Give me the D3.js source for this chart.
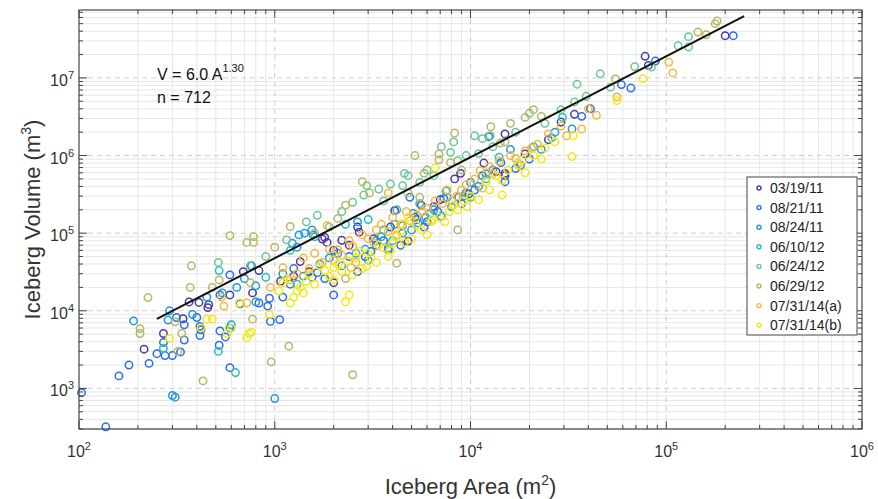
<!DOCTYPE html>
<html>
<head>
<meta charset="utf-8">
<script src="https://cdn.jsdelivr.net/npm/d3@7"></script>
<style>
  body { margin: 0; background: #fff; }
  svg { display: block; }
  text { font-family: "Liberation Sans", Arial, Helvetica, sans-serif; }
</style>
</head>
<body>
<svg id="chart" width="878" height="499"></svg>
<script>
// Survey dates (legend order = drawing order)
const seriesNames = ["03/19/11", "08/21/11", "08/24/11", "06/10/12", "06/24/12", "06/29/12", "07/31/14(a)", "07/31/14(b)"];
const seriesColors = ["#4b3ba0", "#2a6ee8", "#1d9ae2", "#26bdbf", "#6cc892", "#b6b866", "#f6b73e", "#f4e712"];

// [area m², volume m³] for each iceberg
const d031911 = [[2.0e5,3.5e7],[7.8e4,1.9e7],[8.1e4,1.45e7],[3.4e4,3.4e6],[1.5e4,1.9e6],[1.5e4,5.5e5],[4.8e3,7.9e4],[215,3.2e3],[270,5.1e3],[340,7.9e3],[365,1.3e4],[410,1.28e4],[455,1.1e4],[460,1.2e4],[590,1.6e4],[690,3.2e4],[770,1.7e4],[1.75e3,8.4e4],[1.85e3,7.6e4],[2.0e3,6.0e4],[2.0e3,2.3e4],[1.8e3,8.8e4],[2.2e3,8.1e4],[2.65e3,1.2e5],[2.7e3,1.03e5],[8.9e3,5.9e5],[8.3e3,5.0e5],[1.5e4,5.9e5],[1.17e4,8.0e5],[5.6e3,2.3e5],[4.1e3,1.95e5],[7.0e3,2.7e5],[1.07e3,2.4e4],[1.35e3,4.3e4],[830,3.3e4],[2.5e4,1.6e6],[2.9e4,2.7e6],[1.5e3,3.2e4],[2.4e3,7.0e4],[3.2e3,8.5e4],[3.9e3,1.2e5],[5.2e3,1.6e5],[6.5e3,2.2e5],[9.8e3,3.2e5],[1.35e4,6.2e5],[1.9e4,1.05e6],[1.25e3,2.8e4]];
const d082111 = [[2.2e5,3.5e7],[8.8e4,1.65e7],[5.9e4,8.2e6],[6.6e4,7.4e6],[4.1e4,4.0e6],[3.7e4,3.2e6],[137,320],[103,880],[160,1.45e3],[180,2.0e3],[228,2.1e3],[250,2.8e3],[275,2.65e3],[270,3.9e3],[300,2.65e3],[330,2.95e3],[315,8.2e3],[345,4.2e3],[345,6.6e3],[400,8.2e3],[415,6.3e3],[420,5.7e3],[415,4.8e3],[525,5.5e3],[520,3.6e3],[590,2.9e4],[525,1.6e4],[560,4.6e3],[590,1.85e3],[665,1.23e4],[830,1.26e4],[950,7.3e3],[1.06e3,7.7e3],[760,3.8e4],[940,1.45e4],[920,1.15e4],[1.1e3,1.5e4],[1.65e3,3.1e4],[1.55e3,2.7e4],[3.8e3,6.1e4],[3.1e3,5.8e4],[2.65e3,3.2e4],[2.0e3,1.6e4],[5.3e3,1.5e5],[4.5e3,1.26e5],[7.3e3,2.8e5],[8.7e3,2.9e5],[4.9e3,2.9e5],[1.43e4,8.1e5],[1.5e4,4.6e5],[1.24e4,1.75e6],[2.4e3,5.0e4],[3.3e3,7.0e4],[6.0e3,1.4e5],[1.05e4,3.6e5],[2.0e4,9.0e5],[1.25e3,3.5e4],[1.2e3,2.2e4],[1.8e3,2.6e4],[2.9e3,5.0e4],[3.6e3,8.0e4],[4.4e3,7.0e4],[5.8e3,1.2e5],[6.8e3,1.9e5],[9.0e3,2.4e5],[1.15e4,5.5e5],[1.7e4,6.8e5]];
const d082411 = [[290,1.0e4],[190,7.4e3],[300,810],[310,770],[285,7.6e3],[540,1.7e4],[640,2.0e4],[800,2.1e4],[1.33e3,9.5e4],[1.42e3,1.0e5],[1.55e3,1.1e5],[1.57e3,9.5e4],[1.23e3,7.4e4],[1.3e3,6.6e4],[2.65e3,1.4e5],[3.8e3,6.4e4],[5.1e3,1.8e5],[5.4e3,1.35e5],[7.1e3,1.65e5],[9.2e3,3.0e5],[1.0e3,740],[600,6.6e3],[590,6.0e3],[800,1.3e4],[2.1e3,5.5e4],[2.9e3,6.2e4],[3.5e3,9.0e4],[4.5e3,1.0e5],[6.5e3,2.0e5],[8.0e3,2.2e5],[1.1e4,4.0e5],[1.3e4,6.5e5],[1.8e4,7.5e5],[2.3e4,1.2e6],[2.7e4,2.0e6],[3.3e4,2.2e6],[1.6e4,1.2e6],[1.0e4,4.5e5],[9.5e3,3.3e5],[5.0e3,1.1e5],[3.0e3,4.5e4],[1.7e3,4.0e4],[1.4e3,2.8e4],[700,2.6e4],[450,1.5e4],[380,9.0e3],[1.1e3,3.0e4],[1.9e3,4.8e4],[2.2e3,3.8e4],[3.3e3,8.0e4],[4.1e3,1.3e5],[5.9e3,1.6e5],[7.6e3,2.9e5],[1.2e4,5.8e5]];
const d061012 = [[520,3.3e4],[270,3.3e3],[515,3.0e3],[630,1.6e3],[1.0e4,2.9e5],[2.95e4,3.1e6],[1.2e3,6.0e4],[1.6e3,9.0e4],[2.3e3,1.3e5],[3.0e3,1.5e5],[3.6e3,1.1e5],[4.2e3,2.0e5],[5.5e3,2.4e5],[6.2e3,1.8e5],[7.5e3,3.5e5],[1.2e4,5.0e5],[1.4e4,9.5e5],[2.1e4,1.3e6],[2.6e4,1.7e6],[900,2.7e4],[1.3e3,2.2e4],[2.6e3,5.5e4],[4.0e3,8.0e4]];
const d062412 = [[1.3e5,3.4e7],[1.3e5,2.5e7],[1.15e5,2.6e7],[6.9e4,1.4e7],[8.4e4,1.38e7],[4.6e4,1.13e7],[5.2e4,7.6e6],[3.5e4,8.3e6],[3.9e4,5.8e6],[3.4e4,4.9e6],[2.9e4,3.9e6],[2.0e4,3.5e6],[1.7e4,2.0e6],[1.26e4,1.8e6],[1.15e4,1.65e6],[1.05e4,1.8e6],[7.1e3,1.3e6],[7.9e3,1.1e6],[8.2e3,1.5e6],[8.6e3,8.6e5],[1.1e4,1.06e6],[4.6e3,5.9e5],[4.8e3,5.5e5],[3.4e3,3.7e5],[3.9e3,4.3e5],[4.5e3,4.1e5],[2.95e3,4.1e5],[2.85e3,3.1e5],[2.2e3,1.9e5],[1.65e3,1.7e5],[1.45e3,1.4e5],[1.15e3,8.2e4],[515,4.2e4],[2.5e3,2.5e5],[6.0e3,6.5e5],[1.3e4,1.3e6],[5.5e3,4.5e5],[900,5.0e4],[750,3.8e4],[1.9e3,1.2e5],[3.6e3,2.6e5],[6.5e3,5.5e5],[9.5e3,1.0e6],[2.4e4,2.6e6]];
const d062912 = [[1.78e5,5.0e7],[1.82e5,5.4e7],[1.6e5,3.6e7],[1.45e5,3.9e7],[5.5e4,9.7e6],[2.3e4,3.2e6],[2.1e4,3.9e6],[1.9e4,3.1e6],[1.6e4,2.6e6],[1.27e4,2.35e6],[1.42e4,1.45e6],[1.5e4,1.5e6],[1.7e4,9.2e5],[8.3e3,1.95e6],[6.9e3,1.05e6],[6.9e3,8.8e5],[5.2e3,1.0e6],[5.8e3,5.9e5],[7.9e3,8.1e5],[8.6e3,1.1e5],[2.8e3,4.6e5],[3.05e3,3.3e5],[2.3e3,2.3e5],[2.1e3,1.55e5],[1.2e3,1.22e5],[1.0e3,6.6e4],[780,9.0e4],[780,7.6e4],[720,7.6e4],[590,9.3e4],[375,3.8e4],[370,2.0e4],[225,1.48e4],[205,5.9e3],[205,5.1e3],[310,7.2e3],[335,5.1e3],[320,3.0e3],[430,1.25e3],[480,2.0e4],[520,2.5e4],[750,2.3e4],[770,7.8e3],[960,2.2e3],[1.18e3,3.5e3],[2.5e3,1.5e3],[4.2e3,4.1e4],[2.3e3,2.6e4],[5.5e3,2.9e5],[1.6e3,1.0e5],[4.8e3,3.3e5],[9.0e3,6.5e5]];
const d073114a = [[1.03e5,1.6e7],[1.08e5,1.16e7],[5.6e4,5.7e6],[4.0e4,4.0e6],[4.4e4,3.3e6],[3.7e4,2.2e6],[1.12e4,6.4e5],[7.6e3,3.6e5],[3.8e3,3.3e5],[1.85e3,1.25e5],[2.45e3,3.6e4],[2.1e3,6.1e4],[550,1.15e4],[535,1.5e4],[720,1.26e4],[1.4e3,4.8e4],[1.6e3,5.5e4],[2.4e3,8.0e4],[2.8e3,9.5e4],[3.2e3,7.5e4],[3.5e3,1.3e5],[4.0e3,1.6e5],[4.7e3,1.9e5],[5.3e3,1.7e5],[6.0e3,2.1e5],[6.6e3,2.6e5],[8.5e3,3.0e5],[9.5e3,4.2e5],[1.05e4,5.0e5],[1.25e4,7.2e5],[1.4e4,8.5e5],[1.6e4,1.0e6],[1.9e4,1.15e6],[2.2e4,1.4e6],[2.5e4,1.9e6],[2.9e4,2.4e6],[3.1e4,1.8e6],[1.3e3,3.0e4],[1.1e3,3.6e4],[950,2.0e4],[2.0e3,4.5e4],[2.5e3,6.8e4],[3.8e3,1.05e5],[4.4e3,1.3e5],[7.2e3,2.4e5],[1.15e4,3.8e5],[1.2e3,2.5e4],[1.5e3,3.5e4],[1.75e3,4.2e4],[1.9e3,6.2e4],[2.2e3,5.2e4],[2.6e3,4.2e4],[3.0e3,8.5e4],[3.3e3,1.1e5],[4.2e3,9.5e4],[4.9e3,1.45e5],[5.7e3,1.9e5],[8.0e3,2.6e5],[9.0e3,3.6e5],[1.3e4,5.8e5],[1.75e4,8.0e5],[2.05e4,1.25e6]];
const d073114b = [[3.3e4,9.7e5],[3.35e4,1.8e6],[7.6e4,9.8e6],[5.6e4,5.1e6],[1.85e4,8.8e5],[1.45e4,3.1e5],[6.3e3,1.4e5],[6.6e3,6.9e5],[4.5e3,1.3e5],[4.8e3,1.6e5],[4.0e3,7.4e4],[2.95e3,3.7e4],[2.4e3,1.6e4],[2.3e3,1.3e4],[1.4e3,1.7e4],[1.2e3,1.26e4],[1.3e3,1.8e4],[1.35e3,2.0e4],[940,9.0e3],[760,5.3e3],[720,4.5e3],[740,5.1e3],[660,1.26e4],[600,6.0e3],[570,5.1e3],[450,7.8e3],[480,7.8e3],[420,6.0e3],[290,4.4e3],[1.5e3,3.0e4],[1.7e3,3.8e4],[1.9e3,2.8e4],[2.1e3,4.0e4],[2.6e3,4.8e4],[3.0e3,5.5e4],[3.3e3,4.2e4],[3.6e3,6.5e4],[4.2e3,9.0e4],[5.0e3,8.5e4],[5.6e3,1.1e5],[6.0e3,9.5e4],[7.0e3,1.6e5],[7.8e3,1.9e5],[8.6e3,2.0e5],[9.2e3,2.6e5],[1.0e4,3.0e5],[1.1e4,2.7e5],[1.2e4,4.6e5],[1.35e4,5.5e5],[1.55e4,6.5e5],[1.75e4,7.5e5],[2.1e4,1.0e6],[2.4e4,1.25e6],[2.7e4,1.5e6],[1.1e3,2.3e4],[1.25e3,1.5e4],[1.6e3,2.2e4],[2.2e3,3.2e4],[2.8e3,3.5e4],[3.8e3,5.0e4],[4.6e3,7.5e4],[1.05e3,1.8e4],[1.15e3,2.6e4],[1.45e3,2.4e4],[1.8e3,3.3e4],[2.0e3,2.5e4],[2.35e3,4.4e4],[2.7e3,5.8e4],[3.1e3,4.8e4],[3.4e3,7.0e4],[3.9e3,6.0e4],[4.4e3,1.05e5],[5.3e3,1.25e5],[6.4e3,1.5e5],[7.4e3,1.4e5],[8.2e3,2.3e5],[9.6e3,2.2e5],[1.25e4,3.6e5],[1.45e4,4.8e5],[1.9e4,6.0e5],[2.3e4,9.0e5],[2.0e3,3.6e4],[2.5e3,2.9e4]];

const seriesData = [d031911, d082111, d082411, d061012, d062412, d062912, d073114a, d073114b];

// Power-law fit V = a·A^b and the area span it is drawn over
const fitCoef = 6.0;
const fitExp = 1.30;
const fitAreaRange = [250, 2.5e5];
const sampleCount = 712;

const xTickValues = [1e2, 1e3, 1e4, 1e5, 1e6];
const yTickValues = [1e3, 1e4, 1e5, 1e6, 1e7];
const xDomain = [1e2, 1e6];
const yDomain = [300, 7.5e7];

const svg = d3.select("#chart");
const plot = { left: 79, right: 862, top: 10, bottom: 429 };

const x = d3.scaleLog().domain(xDomain).range([plot.left, plot.right]);
const y = d3.scaleLog().domain(yDomain).range([plot.bottom, plot.top]);

const isMajor = v => Math.abs(Math.log10(v) - Math.round(Math.log10(v))) < 1e-9;
const xAll = x.ticks();
const yAll = y.ticks();

// Grid: minor lines solid, decade lines dashed
const grid = svg.append("g");
grid.selectAll(".xminor").data(xAll.filter(v => !isMajor(v))).join("line")
  .attr("x1", d => x(d)).attr("x2", d => x(d)).attr("y1", plot.top).attr("y2", plot.bottom)
  .attr("stroke", "#e6e6e6").attr("stroke-width", 1);
grid.selectAll(".yminor").data(yAll.filter(v => !isMajor(v))).join("line")
  .attr("y1", d => y(d)).attr("y2", d => y(d)).attr("x1", plot.left).attr("x2", plot.right)
  .attr("stroke", "#e6e6e6").attr("stroke-width", 1);
grid.selectAll(".xmajor").data(xTickValues.slice(1, -1)).join("line")
  .attr("x1", d => x(d)).attr("x2", d => x(d)).attr("y1", plot.top).attr("y2", plot.bottom)
  .attr("stroke", "#cfcfcf").attr("stroke-width", 1).attr("stroke-dasharray", "5,4");
grid.selectAll(".ymajor").data(yTickValues).join("line")
  .attr("y1", d => y(d)).attr("y2", d => y(d)).attr("x1", plot.left).attr("x2", plot.right)
  .attr("stroke", "#cfcfcf").attr("stroke-width", 1).attr("stroke-dasharray", "5,4");

// Scatter markers
const marks = svg.append("g");
seriesData.forEach((pts, i) => {
  marks.append("g").selectAll("circle").data(pts).join("circle")
    .attr("cx", d => x(d[0])).attr("cy", d => y(d[1])).attr("r", 3.7)
    .attr("fill", "none").attr("stroke", seriesColors[i]).attr("stroke-width", 1.5);
});

// Fit line
const fitPts = fitAreaRange.map(a => [a, fitCoef * Math.pow(a, fitExp)]);
svg.append("path").datum(fitPts)
  .attr("d", d3.line().x(d => x(d[0])).y(d => y(d[1])))
  .attr("stroke", "#111").attr("stroke-width", 2).attr("fill", "none");

// Axes with inward ticks on all four sides
const axisColor = "#444";
function tickSize(v) { return isMajor(v) ? 8 : 4; }
const axes = svg.append("g");
axes.selectAll(".tb").data(xAll).join("line")
  .attr("x1", d => x(d)).attr("x2", d => x(d)).attr("y1", plot.bottom).attr("y2", d => plot.bottom - tickSize(d))
  .attr("stroke", axisColor);
axes.selectAll(".tt").data(xAll).join("line")
  .attr("x1", d => x(d)).attr("x2", d => x(d)).attr("y1", plot.top).attr("y2", d => plot.top + tickSize(d))
  .attr("stroke", axisColor);
axes.selectAll(".tl").data(yAll).join("line")
  .attr("y1", d => y(d)).attr("y2", d => y(d)).attr("x1", plot.left).attr("x2", d => plot.left + tickSize(d))
  .attr("stroke", axisColor);
axes.selectAll(".tr").data(yAll).join("line")
  .attr("y1", d => y(d)).attr("y2", d => y(d)).attr("x1", plot.right).attr("x2", d => plot.right - tickSize(d))
  .attr("stroke", axisColor);
axes.append("rect").attr("x", plot.left).attr("y", plot.top)
  .attr("width", plot.right - plot.left).attr("height", plot.bottom - plot.top)
  .attr("fill", "none").attr("stroke", axisColor).attr("stroke-width", 1.2);

// Tick labels as 10^n
function powLabel(sel, v) {
  const e = Math.round(Math.log10(v));
  sel.append("tspan").text("10");
  sel.append("tspan").attr("font-size", 11).attr("dy", -7).text(e);
}
xTickValues.forEach(v => {
  const t = svg.append("text").attr("x", x(v)).attr("y", 457)
    .attr("text-anchor", "middle").attr("font-size", 16).attr("fill", "#333");
  powLabel(t, v);
});
yTickValues.forEach(v => {
  const t = svg.append("text").attr("x", 74).attr("y", y(v) + 8)
    .attr("text-anchor", "end").attr("font-size", 16).attr("fill", "#333");
  powLabel(t, v);
});

// Axis titles
const xt = svg.append("text").attr("x", (plot.left + plot.right) / 2).attr("y", 494)
  .attr("text-anchor", "middle").attr("font-size", 22).attr("fill", "#333");
xt.append("tspan").text("Iceberg Area (m");
xt.append("tspan").attr("font-size", 14).attr("dy", -9).text("2");
xt.append("tspan").attr("dy", 9).text(")");

const yt = svg.append("text")
  .attr("transform", `translate(40,${(plot.top + plot.bottom) / 2}) rotate(-90)`)
  .attr("text-anchor", "middle").attr("font-size", 22).attr("fill", "#333");
yt.append("tspan").text("Iceberg Volume (m");
yt.append("tspan").attr("font-size", 14).attr("dy", -9).text("3");
yt.append("tspan").attr("dy", 9).text(")");

// Fit annotation
const eq = svg.append("text").attr("x", 157).attr("y", 80).attr("font-size", 16).attr("fill", "#111");
eq.append("tspan").text(`V = ${fitCoef.toFixed(1)} A`);
eq.append("tspan").attr("font-size", 11).attr("dy", -8).text(fitExp.toFixed(2));
svg.append("text").attr("x", 157).attr("y", 103).attr("font-size", 16).attr("fill", "#111")
  .text(`n = ${sampleCount}`);

// Legend
const lg = svg.append("g");
lg.append("rect").attr("x", 747).attr("y", 177).attr("width", 110).attr("height", 158)
  .attr("fill", "#fff").attr("stroke", "#444").attr("stroke-width", 1);
seriesNames.forEach((name, i) => {
  const cy = 188 + i * 19.6;
  lg.append("circle").attr("cx", 759).attr("cy", cy).attr("r", 2)
    .attr("fill", "none").attr("stroke", seriesColors[i]).attr("stroke-width", 1.4);
  lg.append("text").attr("x", 770).attr("y", cy + 5).attr("font-size", 14).attr("fill", "#222").text(name);
});
</script>
</body>
</html>
